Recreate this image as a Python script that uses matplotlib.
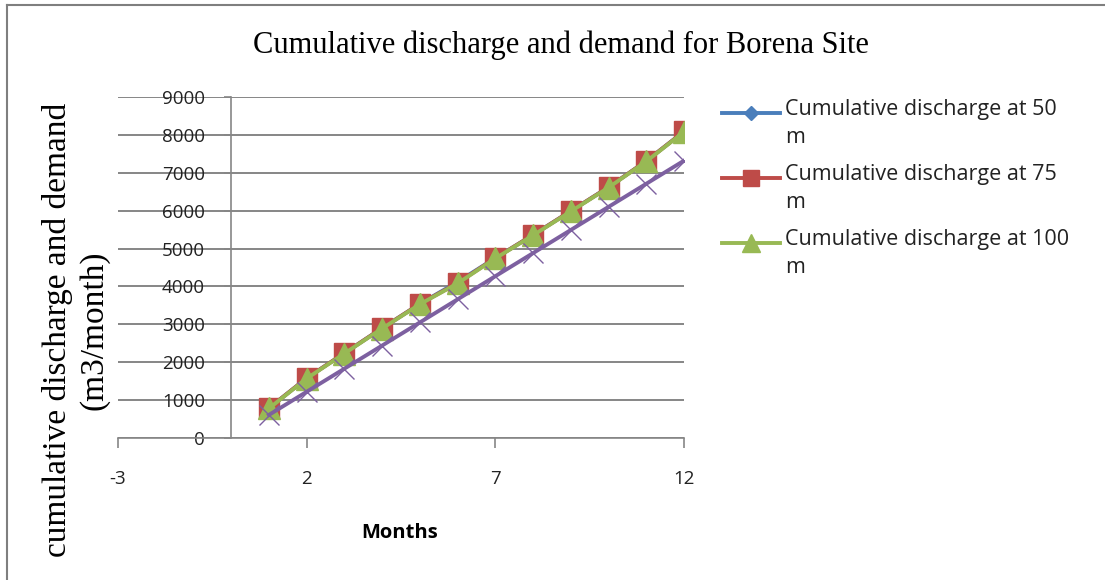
import matplotlib
matplotlib.use('Agg')
import matplotlib.pyplot as plt
from matplotlib.lines import Line2D

months = [1, 2, 3, 4, 5, 6, 7, 8, 9, 10, 11, 12]
discharge_50m = [790, 1580, 2240, 2900, 3540, 4120, 4750, 5360, 5990, 6620, 7310, 8090]
discharge_75m = [790, 1580, 2240, 2900, 3540, 4090, 4750, 5360, 5990, 6620, 7310, 8090]
discharge_100m = [780, 1570, 2230, 2890, 3530, 4080, 4740, 5350, 5980, 6610, 7300, 8080]
demand = [610, 1220, 1830, 2440, 3050, 3660, 4270, 4880, 5490, 6100, 6710, 7320]

series_labels = ['Cumulative discharge at 50\nm',
                 'Cumulative discharge at 75\nm',
                 'Cumulative discharge at 100\nm']
x_ticks = [-3, 2, 7, 12]
y_ticks = [0, 1000, 2000, 3000, 4000, 5000, 6000, 7000, 8000, 9000]

plt.rcParams['axes.unicode_minus'] = False

W, H = 1105, 580
fig = plt.figure(figsize=(W / 100, H / 100), dpi=100)
ax = fig.add_axes([118 / W, 1 - 438 / H, (684 - 118) / W, (438 - 97) / H])

grey = '#868686'
sans = 'Open Sans'
serif = 'Liberation Serif'

l50, = ax.plot(months, discharge_50m, color='#4A7EBB', lw=2.8, marker='D',
               ms=9, zorder=3)
l75, = ax.plot(months, discharge_75m, color='#BE4B48', lw=2.8, marker='s',
               ms=14, zorder=4)
l100, = ax.plot(months, discharge_100m, color='#98B954', lw=2.8, marker='^',
                ms=16, zorder=5)
ax.plot(months, demand, color='#7D60A0', lw=2.8, marker='x', ms=14,
        mew=1.0, zorder=6)

ax.set_xlim(-3, 12)
ax.set_ylim(0, 9000)
ax.set_xticks(x_ticks)
ax.set_yticks(y_ticks)
ax.yaxis.grid(True, color=grey, lw=1.4)
ax.set_axisbelow(True)

for side in ['top', 'right']:
    ax.spines[side].set_visible(False)
ax.spines['left'].set_position(('data', 0))
for side in ['left', 'bottom']:
    ax.spines[side].set_color(grey)
    ax.spines[side].set_linewidth(1.2)

ax.tick_params(axis='y', direction='out', length=5, width=1.2, color=grey,
               pad=14, labelsize=13.5)
ax.tick_params(axis='x', direction='out', length=7, width=1.2, color=grey,
               pad=16, labelsize=13.5)
for lab in ax.get_xticklabels() + ax.get_yticklabels():
    lab.set_fontfamily(sans)
    lab.set_color('#222222')

fig.text(561 / W, 1 - 45 / H, 'Cumulative discharge and demand for Borena Site',
         ha='center', va='center', fontsize=22, family=serif)
fig.text(76 / W, 1 - 330 / H, 'cumulative discharge and demand\n(m3/month)',
         ha='center', va='center', rotation=90, fontsize=24, family=serif,
         multialignment='center', linespacing=1.25)
fig.text(400 / W, 1 - 533 / H, 'Months', ha='center', va='center',
         fontsize=14.5, fontweight='bold', family=sans)

# legend drawn by hand so the key sits on the first line of each label
row_y = [113, 178, 243]
for line, label, y in zip([l50, l75, l100], series_labels, row_y):
    fy = 1 - y / H
    fig.add_artist(Line2D([722 / W, 780 / W], [fy, fy], color=line.get_color(),
                          lw=2.8, transform=fig.transFigure))
    fig.add_artist(Line2D([751 / W], [fy], color=line.get_color(),
                          marker=line.get_marker(),
                          ms=line.get_markersize() * 0.8,
                          transform=fig.transFigure))
    fig.text(785 / W, fy + 14 / H, label, ha='left', va='top', fontsize=15.5,
             family=sans, color='#222222', linespacing=1.45)

# outer chart border (left and top edges)
fig.add_artist(Line2D([7 / W, 7 / W], [0, 1 - 5 / H], color='#7f7f7f', lw=1.5,
                      transform=fig.transFigure))
fig.add_artist(Line2D([7 / W, 1], [1 - 5 / H, 1 - 5 / H], color='#7f7f7f',
                      lw=1.5, transform=fig.transFigure))

fig.savefig('out.png', dpi=100)
